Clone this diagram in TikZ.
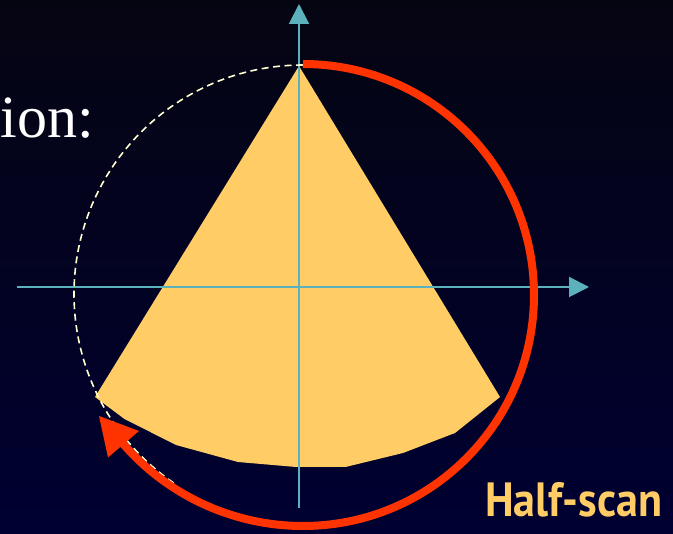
\documentclass[tikz,border=0pt]{standalone}
\usepackage{fontspec}
\usepackage{graphicx}
\setmainfont{Liberation Serif}
\newfontfamily\labelfont{PT Sans}
\usetikzlibrary{arrows.meta}
\definecolor{bgtop}{RGB}{5,5,18}
\definecolor{bgbot}{RGB}{0,0,50}
\definecolor{fan}{RGB}{255,204,102}
\definecolor{scanred}{RGB}{255,51,0}
\definecolor{axiscol}{RGB}{92,178,188}
\definecolor{dashcol}{RGB}{255,255,210}
\begin{document}
\begin{tikzpicture}[x=1pt,y=-1pt,
  axisline/.style={draw=axiscol,line width=2pt,-{Triangle[length=20pt,width=20pt]}},
  scanarc/.style={draw=scanred,line width=8pt},
  scanhead/.style={fill=scanred},
  fullcircle/.style={draw=dashcol,line width=1.6pt,dash pattern=on 7pt off 4.5pt},
  fanfill/.style={fill=fan}]
\fill[top color=bgtop,bottom color=bgbot] (0,0) rectangle (673,534);
\useasboundingbox (0,0) rectangle (673,534);
% fan beam sector
\fill[fanfill] (299,66) -- (95,397) -- (124.5,419) -- (176,445) -- (238,462) -- (296,467)
  -- (345.5,467) -- (403,453) -- (455,433) -- (500,397) -- cycle;
% axes
\coordinate (xl) at (17,287);
\coordinate (xr) at (589,287);
\coordinate (yb) at (299,508);
\coordinate (yt) at (299,4);
\draw[axisline] (xl) -- (xr);
\draw[axisline] (yb) -- (yt);
% dashed source circle (left part)
\coordinate (dc) at (303,294);
\draw[fullcircle] ([shift={(-90:229)}]dc) arc[start angle=-90,end angle=-236,radius=229];
% half-scan arc
\coordinate (rc) at (303,295);
\coordinate (rc2) at (303,288);
\draw[scanarc] ([shift={(-90:231)}]rc) arc[start angle=-90,end angle=90,radius=231]
  arc[start angle=90,end angle=139.5,radius=238] coordinate (hb);
% arrow head
\coordinate (tip) at (99,416);
\coordinate (hl) at (108,457.5);
\coordinate (hr) at (139,431);
\fill[scanhead] (tip) -- (hl) -- (hr) -- cycle;
% labels
\node[anchor=base east,inner sep=0,text=white,font=\fontsize{60}{60}\selectfont] (ion) at (94,138) {ion:};
\node[anchor=base west,inner sep=0,text=fan] (hs) at (485,517) {\resizebox{177pt}{34pt}{\labelfont\bfseries Half-scan}};
\end{tikzpicture}
\end{document}
